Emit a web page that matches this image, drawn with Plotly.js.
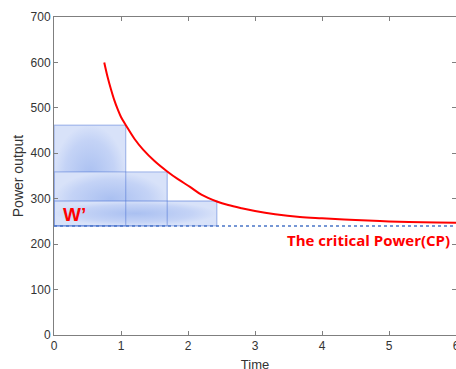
<!DOCTYPE html>
<html>
<head>
<meta charset="utf-8">
<script src="https://cdn.plot.ly/plotly-3.0.1.min.js"></script>
<style>html,body{margin:0;padding:0;background:#fff;overflow:hidden;}#chart{width:456px;height:374px;}</style>
</head>
<body>
<div id="chart"></div>
<script>
// Power-duration curve
var curveTime  = [0.75, 0.8, 0.85, 0.9, 0.95, 1.0, 1.08, 1.2, 1.33, 1.5, 1.69, 1.85, 2.03, 2.2, 2.43, 2.6, 2.8, 3.0, 3.3, 3.67, 4.0, 4.5, 5.0, 5.5, 6.0];
var curvePower = [600, 568, 541, 517, 497, 480, 460, 432, 408, 383, 360, 343, 326, 309, 294, 286, 279, 273, 266, 260, 257, 253, 250, 248, 247];

// Critical power level
var cpPower = 240;
var cpTime = [0, 6];

// W' blocks: right edge time and top power of each block
var blockTime  = [1.07, 1.69, 2.43];
var blockPower = [462, 359, 295];

var xTicks = [0, 1, 2, 3, 4, 5, 6];
var yTicks = [0, 100, 200, 300, 400, 500, 600, 700];

var wLabel = "W\u2019";
var cpLabel = "The critical Power(CP)";

var traces = [];
// fills
for (var i = 0; i < blockTime.length; i++) {
  traces.push({
    x: [0, blockTime[i], blockTime[i], 0, 0],
    y: [cpPower, cpPower, blockPower[i], blockPower[i], cpPower],
    type: 'scatter', mode: 'lines', fill: 'toself',
    line: {width: 0, color: 'rgba(0,0,0,0)'},
    fillcolor: 'rgb(196,211,246)',
    fillgradient: {type: 'radial', colorscale: [[0, 'rgb(170,192,241)'], [0.7, 'rgb(196,211,246)'], [1, 'rgb(216,226,249)']]},
    hoverinfo: 'skip', showlegend: false
  });
}
// outlines
for (var j = 0; j < blockTime.length; j++) {
  traces.push({
    x: [0, blockTime[j], blockTime[j], 0, 0],
    y: [cpPower, cpPower, blockPower[j], blockPower[j], cpPower],
    type: 'scatter', mode: 'lines',
    line: {width: 1.3, color: 'rgba(70,110,210,0.4)'},
    hoverinfo: 'skip', showlegend: false
  });
}
// CP dotted line
traces.push({
  x: cpTime, y: [cpPower, cpPower],
  type: 'scatter', mode: 'lines',
  line: {color: '#4a76c8', width: 1.5, dash: 'dot'},
  showlegend: false
});
// Red curve
traces.push({
  x: curveTime, y: curvePower,
  type: 'scatter', mode: 'lines',
  line: {color: '#ff0000', width: 2, shape: 'spline', smoothing: 1},
  showlegend: false
});

var axisCommon = {
  showline: true, linecolor: '#7f7f7f', linewidth: 1, mirror: 'ticks',
  ticks: 'inside', ticklen: 4, tickcolor: '#7f7f7f', tickwidth: 1,
  showgrid: false, zeroline: false, ticklabeloverflow: 'allow',
  tickfont: {family: 'Liberation Sans, Arial, sans-serif', size: 12, color: '#333333'}
};

var layout = {
  width: 456, height: 374,
  margin: {l: 54, r: 0, t: 17, b: 39},
  paper_bgcolor: '#ffffff', plot_bgcolor: '#ffffff',
  xaxis: Object.assign({}, axisCommon, {
    range: [0, 6], tickvals: xTicks, ticktext: xTicks.map(String),
    title: {text: 'Time', font: {family: 'Liberation Sans, Arial, sans-serif', size: 13, color: '#333333'}, standoff: 7}
  }),
  yaxis: Object.assign({}, axisCommon, {
    range: [0, 700], tickvals: yTicks, ticktext: yTicks.map(String),
    title: {text: 'Power output', font: {family: 'Liberation Sans, Arial, sans-serif', size: 14, color: '#333333'}, standoff: 3}
  }),
  annotations: [
    {x: 0.11, y: 265, xref: 'x', yref: 'y', xanchor: 'left', yanchor: 'middle',
     text: '<b>' + wLabel + '</b>', showarrow: false,
     font: {family: 'Liberation Sans, Arial, sans-serif', size: 19, color: '#ff0000'}},
    {x: 5.94, y: 209, xref: 'x', yref: 'y', xanchor: 'right', yanchor: 'middle',
     text: '<b>' + cpLabel + '</b>', showarrow: false,
     font: {family: 'Open Sans, sans-serif', size: 15, color: '#ff0000'}}
  ]
};

Plotly.newPlot('chart', traces, layout, {displayModeBar: false, staticPlot: true});
</script>
</body>
</html>
